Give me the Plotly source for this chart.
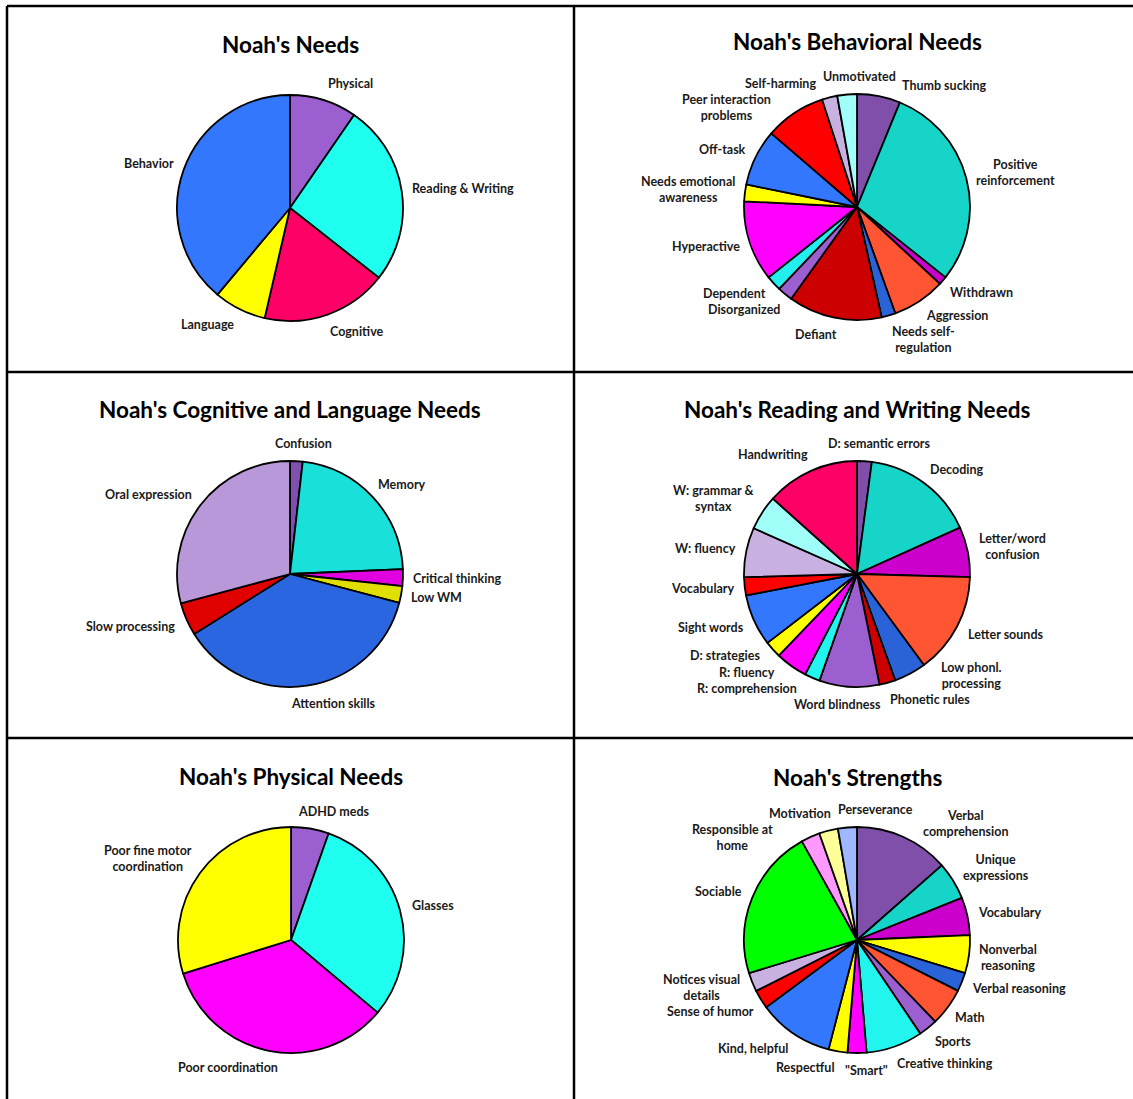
import math
import plotly.graph_objects as go

# ---------------- data ----------------
needs_labels = ["Physical", "Reading & Writing", "Cognitive", "Language", "Behavior"]
needs_values = [9.6, 26.0, 18.0, 7.5, 38.9]
needs_colors = ["#9B5FCF", "#1EFFF0", "#FF0066", "#FFFF00", "#3377FF"]

behav_labels = ["Thumb sucking", "Positive<br>reinforcement", "Withdrawn", "Aggression",
                "Needs self-<br>regulation", "Defiant", "Disorganized", "Dependent",
                "Hyperactive", "Needs emotional<br>awareness", "Off-task",
                "Peer interaction<br>problems", "Self-harming", "Unmotivated"]
behav_values = [6.2, 29.5, 1.2, 7.6, 2.0, 13.4, 2.2, 2.2, 11.5, 2.4, 8.1, 8.7, 2.2, 2.8]
behav_colors = ["#7F4FAA", "#17D4C8", "#CC00CC", "#FF5533", "#2A62D8", "#CC0000", "#9B5FCF",
                "#22EEEE", "#FF00FF", "#FFFF00", "#3377FF", "#FF0000", "#C8B0E0", "#A0FFF8"]

cog_labels = ["Confusion", "Memory", "Critical thinking", "Low WM", "Attention skills",
              "Slow processing", "Oral expression"]
cog_values = [1.8, 22.5, 2.4, 2.4, 37.0, 4.7, 29.2]
cog_colors = ["#8050B0", "#19E0D8", "#E000E0", "#E0E000", "#2966E0", "#E00000", "#B898D8"]

rw_labels = ["D: semantic errors", "Decoding", "Letter/word<br>confusion", "Letter sounds",
             "Low phonl.<br>processing", "Phonetic rules", "Word blindness", "R: comprehension",
             "R: fluency", "D: strategies", "Sight words", "Vocabulary", "W: fluency",
             "W: grammar &<br>syntax", "Handwriting"]
rw_values = [2.1, 16.2, 7.2, 14.5, 4.6, 2.3, 8.6, 2.2, 4.6, 2.4, 7.4, 2.6, 7.1, 5.0, 13.4]
rw_colors = ["#7F4FAA", "#17D4C8", "#CC00CC", "#FF5533", "#2A62D8", "#CC0000", "#9B5FCF",
             "#22F5EE", "#FF00FF", "#FFFF00", "#3377FF", "#FF0000", "#C8B0E0", "#A0FFF8",
             "#FF0066"]

phys_labels = ["ADHD meds", "Glasses", "Poor coordination", "Poor fine motor<br>coordination"]
phys_values = [5.4, 30.7, 34.1, 29.8]
phys_colors = ["#9B5FCF", "#1EFFF0", "#FF00FF", "#FFFF00"]

str_labels = ["Verbal<br>comprehension", "Unique<br>expressions", "Vocabulary",
              "Nonverbal<br>reasoning", "Verbal reasoning", "Math", "Sports",
              "Creative thinking", "\"Smart\"", "Respectful", "Kind, helpful",
              "Sense of humor", "Notices visual<br>details", "Sociable",
              "Responsible at<br>home", "Motivation", "Perseverance"]
str_values = [5, 2, 2, 2, 1, 2, 1, 3, 1, 1, 4, 1, 1, 8, 1, 1, 1]
str_colors = ["#7F4FAA", "#17D4C8", "#CC00CC", "#FFFF00", "#2A62D8", "#FF5533", "#9B5FCF",
              "#22F5EE", "#FF00FF", "#FFFF00", "#3377FF", "#FF0000", "#C8B0E0", "#00FF00",
              "#FF99FF", "#FFFF99", "#A0B8FF"]

titles = ["Noah's Needs", "Noah's Behavioral Needs", "Noah's Cognitive and Language Needs",
          "Noah's Reading and Writing Needs", "Noah's Physical Needs", "Noah's Strengths"]

# ---------------- layout ----------------
W, H = 1133, 1099
FONT = "Lato"
LBL_SIZE = 12.5
TITLE_SIZE = 22.5
R = 113          # pie radius in px
GAP = 11         # label distance outside pie edge
PADX, PADY = 8.0, 3.0
centers = [(290, 208), (857, 207), (290, 574), (857, 574), (291, 940), (857, 940)]
title_y = [44, 42, 410, 410, 776, 777]


def dom(cx, cy, r):
    return dict(x=[(cx - r) / W, (cx + r) / W], y=[1 - (cy + r) / H, 1 - (cy - r) / H])


def char_w(ch):
    if ch in "il.,:;'!|j":
        return 0.25
    if ch in "frt-":
        return 0.36
    if ch == " ":
        return 0.26
    if ch in "\"/":
        return 0.42
    if ch in "mw":
        return 0.8
    if ch == "&":
        return 0.7
    if ch == "W":
        return 0.95
    if ch.isupper():
        return 0.66
    return 0.53


def text_box(label):
    lines = label.split("<br>")
    w = max(sum(char_w(c) for c in ln) for ln in lines) * LBL_SIZE
    h = 13 + 15.5 * (len(lines) - 1)
    return w, h


def box_at(a, w, h, cx, cy):
    s, c = math.sin(a), math.cos(a)
    px, py = cx + (R + GAP) * s, cy - (R + GAP) * c
    k = max(-1.0, min(1.0, 4 * s))
    return px + (w / 2) * k, py - (h / 2) * c


def label_positions(values, labels, cx, cy):
    total = float(sum(values))
    cum = 0.0
    angles, sizes = [], []
    for v, lab in zip(values, labels):
        angles.append(2 * math.pi * (cum + v / 2) / total)
        cum += v
        sizes.append(text_box(lab))
    # relax overlapping labels by sliding them along the circle
    step = math.radians(0.25)
    n = len(angles)
    for _ in range(3000):
        moved = False
        boxes = [box_at(a, w, h, cx, cy) for a, (w, h) in zip(angles, sizes)]
        for i in range(n):
            for j in range(i + 1, n):
                (xi, yi), (wi, hi) = boxes[i], sizes[i]
                (xj, yj), (wj, hj) = boxes[j], sizes[j]
                ox = (wi + wj) / 2 + PADX - abs(xi - xj)
                oy = (hi + hj) / 2 + PADY - abs(yi - yj)
                if ox > 0 and oy > 0:
                    moved = True
                    d = math.degrees(angles[j] - angles[i])
                    d = ((d + 180) % 360) - 180
                    sg = 1 if d >= 0 else -1
                    angles[j] += sg * step
                    angles[i] -= sg * step
        if not moved:
            break
    return [box_at(a, w, h, cx, cy) for a, (w, h) in zip(angles, sizes)]


series = [
    (needs_labels, needs_values, needs_colors),
    (behav_labels, behav_values, behav_colors),
    (cog_labels, cog_values, cog_colors),
    (rw_labels, rw_values, rw_colors),
    (phys_labels, phys_values, phys_colors),
    (str_labels, str_values, str_colors),
]

fig = go.Figure()
annotations = []
for (labels, values, colors), (cx, cy) in zip(series, centers):
    fig.add_trace(go.Pie(
        labels=labels, values=values, sort=False, direction="clockwise", rotation=0,
        marker=dict(colors=colors, line=dict(color="black", width=1.8)),
        textinfo="none", domain=dom(cx, cy, R), hoverinfo="skip", showlegend=False,
    ))
    for lab, (bx, by) in zip(labels, label_positions(values, labels, cx, cy)):
        annotations.append(dict(
            text=lab, x=bx / W, y=1 - by / H, xref="paper", yref="paper",
            xanchor="center", yanchor="middle", align="center", showarrow=False,
            font=dict(family=FONT, size=LBL_SIZE, color="#1a1a1a", weight="bold"),
        ))

for t, (cx, cy), ty in zip(titles, centers, title_y):
    annotations.append(dict(
        text=t, x=cx / W, y=1 - ty / H, xref="paper", yref="paper",
        xanchor="center", yanchor="middle", showarrow=False,
        font=dict(family=FONT, size=TITLE_SIZE, color="black", weight="bold"),
    ))

shapes = []
LW = 2.5
for xpx in (7, 574):
    shapes.append(dict(type="line", xref="paper", yref="paper",
                       x0=xpx / W, x1=xpx / W, y0=0, y1=1 - 6 / H,
                       line=dict(color="black", width=LW)))
for ypx in (6, 372, 738):
    shapes.append(dict(type="line", xref="paper", yref="paper",
                       x0=7 / W, x1=1, y0=1 - ypx / H, y1=1 - ypx / H,
                       line=dict(color="black", width=LW)))

fig.update_layout(
    width=W, height=H, margin=dict(l=0, r=0, t=0, b=0),
    paper_bgcolor="white", plot_bgcolor="white",
    annotations=annotations, shapes=shapes,
    font=dict(family=FONT),
)

fig.write_html("out.html",
               config={"displayModeBar": False},
               post_script="document.body.style.margin='0px';"
                           "document.body.style.overflow='hidden';")
